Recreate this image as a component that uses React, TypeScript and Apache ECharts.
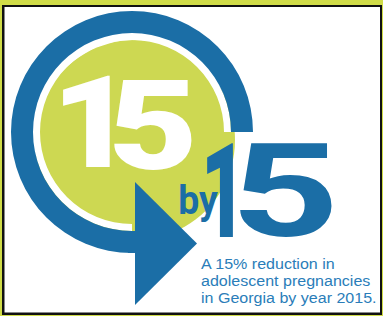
import React, { useEffect, useRef } from "react";
import * as echarts from "echarts";

// Logo content
const headlineDigits = ["1", "5"];
const connectorWord = ["by"];
const targetDigits = ["1", "5"];
const descriptionLines = [
  "A 15% reduction in",
  "adolescent pregnancies",
  "in Georgia by year 2015.",
];

const BLUE = "#1b6ea6";
const GREEN = "#cdd852";
const TEXT_BLUE = "#2a7db9";
const FRAME = "#d0dc48";
const CENTRAL_SHIFT = 0.095;

type Box = { x0: number; x1: number; y0: number; y1: number };

function txt(text: string, x: number, y: number, font: string, fill: string, scaleX = 1) {
  return {
    type: "text",
    x,
    y,
    scaleX,
    style: { text, font, fill, align: "left", verticalAlign: "middle" },
  };
}

// place a glyph run so that its ink fills the given box
function fitText(text: string, weight: string, family: string, box: Box, fill: string) {
  const ctx = document.createElement("canvas").getContext("2d")!;
  const F = 100;
  ctx.font = `${weight} ${F}px ${family}`;
  ctx.textBaseline = "middle";
  ctx.textAlign = "left";
  const m = ctx.measureText(text);
  const L = m.actualBoundingBoxLeft;
  const R = m.actualBoundingBoxRight;
  const A = m.actualBoundingBoxAscent;
  const D = m.actualBoundingBoxDescent;
  const k = (box.y1 - box.y0) / (A + D);
  const size = F * k;
  const sx = (box.x1 - box.x0) / ((L + R) * k);
  const x = box.x0 + L * k * sx;
  const y = box.y0 + A * k - CENTRAL_SHIFT * size;
  return txt(text, x, y, `${weight} ${size.toFixed(2)}px ${family}`, fill, sx);
}

export default function App() {
  const ref = useRef<HTMLDivElement>(null);
  useEffect(() => {
    const chart = echarts.init(ref.current!, null, { renderer: "svg" });
    const cx = 132;
    const cy = 132;
    const graphic: any[] = [
      { type: "rect", shape: { x: 0, y: 0, width: 383, height: 316 }, style: { fill: FRAME } },
      { type: "rect", shape: { x: 2, y: 5, width: 380, height: 310 }, style: { fill: "#111" } },
      { type: "rect", shape: { x: 4.5, y: 7, width: 375.5, height: 305.5 }, style: { fill: "#fff" } },
      { type: "circle", shape: { cx: 135, cy: 140, r: 100 }, style: { fill: GREEN } },
      {
        type: "sector",
        shape: { cx, cy, r0: 92, r: 99, startAngle: Math.PI / 2, endAngle: Math.PI * 2, clockwise: true },
        style: { fill: "#fff" },
      },
      {
        type: "sector",
        shape: { cx, cy, r0: 99, r: 121, startAngle: Math.PI / 2, endAngle: Math.PI * 2, clockwise: true },
        style: { fill: BLUE },
      },
      { type: "rect", shape: { x: 128, y: 231, width: 9, height: 22 }, style: { fill: BLUE } },
      {
        type: "polygon",
        shape: { points: [[135, 182], [197, 243.5], [135, 305]] },
        style: { fill: BLUE },
      },
      fitText(headlineDigits[0], "900", "Roboto", { x0: 63, x1: 110, y0: 75, y1: 167 }, "#fff"),
      fitText(headlineDigits[1], "900", "Roboto", { x0: 113, x1: 192, y0: 80, y1: 170 }, "#fff"),
      fitText(connectorWord[0], "bold", "Roboto", { x0: 180, x1: 218, y0: 183, y1: 222 }, BLUE),
      fitText(targetDigits[0], "900", "Roboto", { x0: 207, x1: 233, y0: 143, y1: 238 }, BLUE),
      fitText(targetDigits[1], "bold", "Roboto", { x0: 240, x1: 333, y0: 143, y1: 238 }, BLUE),
      ...descriptionLines.map((l, i) => ({
        type: "text",
        x: 201,
        y: 263.5 + i * 17,
        scaleX: 1.07,
        style: {
          text: l,
          font: "15px 'Liberation Sans'",
          fill: TEXT_BLUE,
          align: "left",
          verticalAlign: "middle",
        },
      })),
    ];
    chart.setOption({ animation: false, graphic });
    return () => chart.dispose();
  }, []);
  return (
    <div
      ref={ref}
      style={{ position: "absolute", left: 0, top: 0, width: 383, height: 316 }}
    />
  );
}
